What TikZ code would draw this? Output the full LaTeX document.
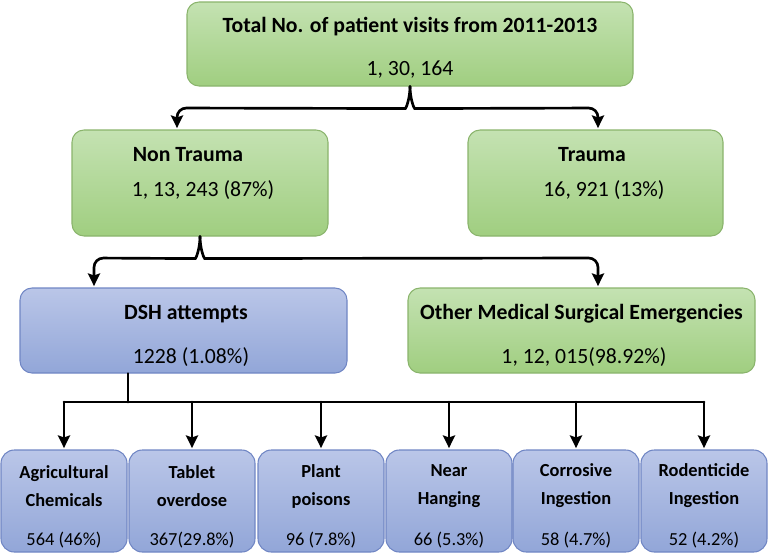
\documentclass[tikz,border=0pt]{standalone}
\usepackage{fontspec}
\setmainfont{Carlito}
\usetikzlibrary{arrows.meta,calc}
\definecolor{gtop}{RGB}{196,226,178}
\definecolor{gbot}{RGB}{160,206,128}
\definecolor{gline}{RGB}{138,180,108}
\definecolor{btop}{RGB}{186,198,232}
\definecolor{bbot}{RGB}{146,166,216}
\definecolor{bline}{RGB}{112,134,196}
\tikzset{
  boxbase/.style={rounded corners=9pt, line width=0.8pt, inner sep=0pt},
  gbox/.style={boxbase, draw=gline, top color=gtop, bottom color=gbot},
  bbox/.style={boxbase, draw=bline, top color=btop, bottom color=bbot},
  smallbox/.style={bbox, rounded corners=10pt, minimum width=94.5pt, minimum height=76.5pt},
  bigh/.style={minimum height=79.5pt},
  midh/.style={minimum height=63.75pt},
  ttl/.style={font=\bfseries\fontsize{16.3}{19}\selectfont, inner sep=0pt},
  num/.style={font=\fontsize{16.3}{19}\selectfont, inner sep=0pt},
  snum/.style={font=\fontsize{13.8}{16}\selectfont, inner sep=0pt},
  ttl2/.style={font=\bfseries\fontsize{13.8}{21}\selectfont, align=center, inner sep=0pt},
  wire/.style={line width=2pt, line cap=round},
  conn/.style={wire, -{Stealth[length=9.5pt,width=9pt,inset=1.5pt]}, shorten >=1pt},
}
\begin{document}
\begin{tikzpicture}[x=0.75pt,y=-0.75pt]
\useasboundingbox (0,0) rectangle (777,557);
% boxes
\node[gbox, minimum width=334.5pt, minimum height=63pt] (top) at (410,44) {};
\node[gbox, bigh, minimum width=192pt] (NT) at (200,183) {};
\node[gbox, bigh, minimum width=191.25pt] (T) at (595.5,183) {};
\node[bbox, midh, minimum width=245.25pt] (DSH) at (183.5,330.5) {};
\node[gbox, midh, minimum width=260.25pt] (OM) at (581.5,330.5) {};
\node[smallbox] (b1) at (64,501) {};
\node[smallbox] (b2) at (192,501) {};
\node[smallbox] (b3) at (321,501) {};
\node[smallbox] (b4) at (449,501) {};
\node[smallbox] (b5) at (576,501) {};
\node[smallbox] (b6) at (704,501) {};
% texts
\node[ttl] (topA) at (410,27) {Total No. of patient visits from 2011-2013};
\node[num] (topB) at (410,70) {1, 30, 164};
\node[ttl] (NTA) at (188,155) {Non Trauma};
\node[num] (NTB) at (203,190) {1, 13, 243 (87\%)};
\node[ttl] (TA) at (592,155) {Trauma};
\node[num] (TB) at (604,190) {16, 921 (13\%)};
\node[ttl] (DSHA) at (186,314) {DSH attempts};
\node[num] (DSHB) at (191,357) {1228 (1.08\%)};
\node[ttl] (OMA) at (581.5,314) {Other Medical Surgical Emergencies};
\node[num] (OMB) at (584,357) {1, 12, 015(98.92\%)};
\node[ttl2] (b1A) at (64,486) {Agricultural\\Chemicals};
\node[ttl2] (b2A) at (192,486) {Tablet\\overdose};
\node[ttl2] (b3A) at (321,486) {Plant\\poisons};
\node[ttl2] (b4A) at (449,486) {Near\\Hanging};
\node[ttl2] (b5A) at (576,486) {Corrosive\\Ingestion};
\node[ttl2] (b6A) at (704,486) {Rodenticide\\Ingestion};
\node[snum] (b1B) at (64,540) {564 (46\%)};
\node[snum] (b2B) at (192,540) {367(29.8\%)};
\node[snum] (b3B) at (321,540) {96 (7.8\%)};
\node[snum] (b4B) at (449,540) {66 (5.3\%)};
\node[snum] (b5B) at (576,540) {58 (4.7\%)};
\node[snum] (b6B) at (704,540) {52 (4.2\%)};
% connector helper coordinates
\coordinate (h1) at (0,108);
\coordinate (nta) at (177,0);
\coordinate (ta) at (598,0);
\coordinate (h2) at (0,258);
\coordinate (da) at (94,0);
\coordinate (oa) at (598,0);
\coordinate (j) at (128,402);
% brace 1
\draw[conn, rounded corners=7pt] (top.south) .. controls +(0,12) and +(10,0) .. ++(-14,22) -- (nta |- h1) -- (nta |- NT.north);
\draw[conn, rounded corners=7pt] (top.south) .. controls +(0,12) and +(-10,0) .. ++(14,22) -- (ta |- h1) -- (ta |- T.north);
% brace 2
\draw[conn, rounded corners=7pt] (NT.south) .. controls +(0,12) and +(10,0) .. ++(-14,22) -- (da |- h2) -- (da |- DSH.north);
\draw[conn, rounded corners=7pt] (NT.south) .. controls +(0,12) and +(-10,0) .. ++(14,22) -- (oa |- h2) -- (oa |- OM.north);
% DSH branches
\draw[wire] (DSH.south -| j) -- (j);
\draw[wire] (b1.north |- j) -- (b6.north |- j);
\foreach \b in {b1,b2,b3,b4,b5,b6}{
  \draw[conn] (\b.north |- j) -- (\b.north);
}
\end{tikzpicture}
\end{document}
